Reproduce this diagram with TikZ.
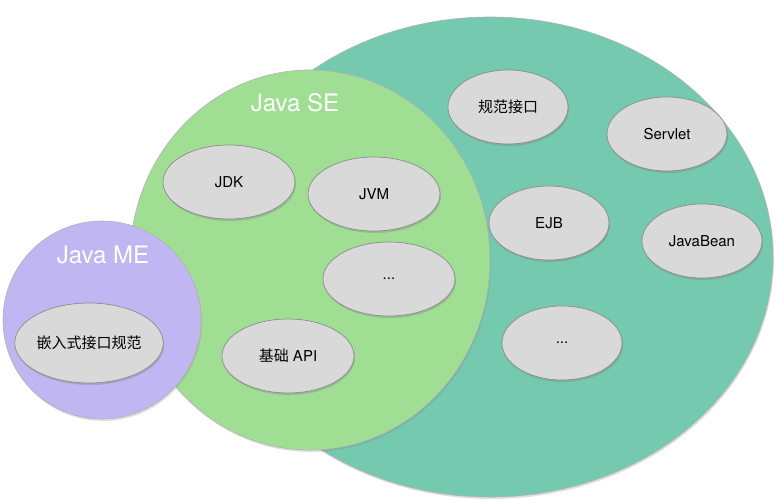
\documentclass[tikz,border=0pt]{standalone}
\usepackage{fontspec}
\setmainfont{TeX Gyre Heros}
\newfontfamily\cjk{Noto Sans CJK SC}
\usetikzlibrary{shapes.geometric,shadows}

\definecolor{eecolor}{RGB}{117,201,175}
\definecolor{secolor}{RGB}{160,222,148}
\definecolor{mecolor}{RGB}{192,182,242}
\definecolor{compgray}{RGB}{217,217,217}

\begin{document}
\begin{tikzpicture}[
  x=1pt, y=-1pt,
  area/.style={ellipse, inner sep=0pt, draw=black!30, line width=0.6pt,
    drop shadow={opacity=0.25, shadow xshift=1pt, shadow yshift=-2pt}},
  comp/.style={ellipse, inner sep=0pt, minimum width=120pt, minimum height=74pt,
    fill=compgray, draw=black!45, line width=0.7pt, font=\fontsize{15}{18}\selectfont,
    drop shadow={opacity=0.35, shadow xshift=1pt, shadow yshift=-2pt}},
  titulo/.style={text=white, font=\fontsize{24}{28}\selectfont}
]
\useasboundingbox (0,0) rectangle (777,500);

%% ===== Java EE =====
\node[area, fill=eecolor, minimum width=566pt, minimum height=480pt] (ee) at (490,257) {};

%% ===== Java SE =====
\node[area, fill=secolor, minimum width=360pt, minimum height=380pt] (se) at (310,260) {};
\node[titulo] (setit) at (295,103) {Java SE};

%% ===== Java ME =====
\node[area, fill=mecolor, minimum width=198pt, minimum height=198pt] (me) at (102,320) {};
\node[titulo] (metit) at (103,255) {Java ME};

%% componentes SE
\node[comp, minimum width=132pt] (jdk) at (229,182) {JDK};
\node[comp, minimum width=132pt] (jvm) at (374,194) {JVM};
\node[comp, minimum width=132pt] (semas) at (389,279) {...};
\node[comp, minimum width=132pt] (api) at (288,356) {{\cjk 基础} API};

%% componentes ME
\node[comp, minimum width=122pt, minimum height=80pt] (emb) at (89,343) {\cjk 嵌入式接口规范};

%% componentes EE
\node[comp] (spec) at (508,107) {\cjk 规范接口};
\node[comp] (servlet) at (667,134) {Servlet};
\node[comp] (ejb) at (549,223) {EJB};
\node[comp] (bean) at (702,241) {JavaBean};
\node[comp] (eemas) at (562,343) {...};
\end{tikzpicture}
\end{document}
